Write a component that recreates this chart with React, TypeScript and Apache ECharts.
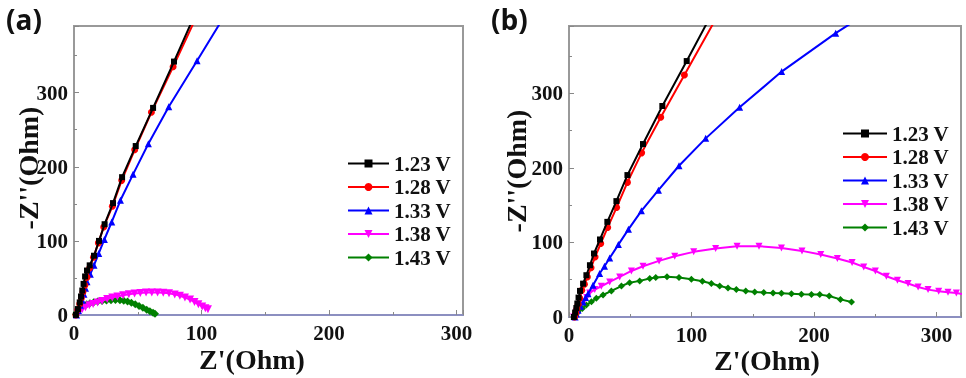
import React, { useEffect, useRef } from "react";
import * as echarts from "echarts";

const seriesNames = ["1.23 V", "1.28 V", "1.33 V", "1.38 V", "1.43 V"];
const colors = ["#000000", "#ff0000", "#0000ff", "#ff00ff", "#008000"];

// Panel (a)
const a123: number[][] = [[1.5,0],[3,8],[4.5,17],[5.5,25],[6.5,33],[7.5,42],[8.7,52],[10.2,60],[12.3,67],[15.7,80],[19.6,100],[24,122.5],[30.6,151],[37.7,186],[48.4,228],[62,279.5],[78.4,342],[98,418]];
const a128: number[][] = [[1.5,0],[3,7],[4.5,15],[5.8,23],[7,31],[8.5,40],[10.2,51],[12.3,63.5],[15.3,78],[19.1,97.3],[23.3,118.8],[30.1,146.7],[37.4,181.7],[47.6,223],[60.7,273.6],[77.7,335],[98,410]];
const a133: number[][] = [[2,0],[3.5,6],[5,13],[6.5,20],[7.8,28],[9,36],[10.2,45],[12.8,55],[15.7,67.3],[19.4,83],[23.8,101.9],[29.6,125.6],[36.4,154.8],[46.3,189.8],[58.3,231],[74.3,281],[96.5,343],[122,415]];
const a138: number[][] = [[3,2],[4.5,5],[6.5,8],[9,10.5],[12,13],[15,15],[18.5,17],[22,19],[26,21.5],[30,23.5],[34,25],[38.5,26.5],[43,28],[47.5,29],[52,29.8],[56.5,30.3],[61,30.5],[65.5,30.5],[70,30],[74.5,29.2],[79,27.8],[83,26],[87,23.5],[91,20.8],[94.5,17.5],[97.5,14.5],[100.5,11.5],[103,9.2],[105,7.6]];
const a143: number[][] = [[1.5,1],[2.5,4],[3.8,7],[5.5,10],[7.5,12.5],[10,14.5],[12.5,16],[15.5,17.2],[18.5,18.2],[22,19],[25.5,19.6],[29,20],[32.5,20.2],[36,20],[39,19.3],[42,18.2],[45,16.6],[48,14.6],[51,12.3],[54,9.8],[57,7.2],[59.5,5],[62,3],[63.5,1.8]];

// Panel (b)
const b123: number[][] = [[4,0],[5,6],[6,12],[6.8,18],[7.8,26],[9,35],[11.5,44.7],[14.2,56],[17.1,69.4],[20.4,85.1],[25.3,103.9],[31.3,127.5],[38.7,155.3],[47.7,190.2],[60.4,231.8],[76.2,282.8],[96.1,343],[121,420]];
const b128: number[][] = [[4.5,0],[5.5,5],[6.5,11],[7.5,17],[8.8,25],[10.4,35.7],[12.6,43.8],[15,53.6],[18,66],[21.3,80.5],[25.9,98.5],[31.6,120],[38.9,146.8],[47.7,180.4],[59.3,220],[74.9,267.6],[94.2,324.4],[120,400]];
const b133: number[][] = [[5,0],[6,4],[7.4,9],[9.4,14.5],[11.5,20.1],[13.5,26],[15.5,31.3],[19.6,42.6],[25,58.3],[29,68],[33.2,79],[40.3,97],[48.5,117.5],[59.1,142.3],[73,170],[89.8,202.7],[111.6,239.4],[139.3,281],[173.6,328.9],[217.7,380.4],[260,425]];
const b138: number[][] = [[3.8,0],[6,6.7],[8.7,13.4],[12,20.1],[14.5,26],[16.9,32.2],[21,36.7],[26.4,41.2],[33.2,47],[41.4,53.7],[50.9,61.7],[60.4,68],[73.5,75.2],[86.3,81.5],[101.8,87.3],[119.7,91.8],[137.2,94.9],[155.1,94.9],[173.4,92.6],[190.2,88.6],[205.5,83.7],[219.1,78.3],[231.1,73],[240.6,67.1],[250.1,61.7],[259.1,54.6],[268.1,49.3],[276.8,44.8],[285,40.3],[293.1,36.7],[301.8,34.5],[309.4,33.2],[316.2,32.2],[324,30]];
const b143: number[][] = [[4.7,0],[5.8,3],[7.4,7],[10.9,11.5],[14.2,16],[18.3,20.5],[22.3,25],[27.8,29.5],[34.6,35],[42.8,41.5],[49.5,46],[57.7,48.4],[65.9,51.5],[70.8,52.9],[80,53.8],[89.8,52.9],[99.9,50.6],[108.9,47.9],[116.2,44.8],[123,41.6],[129.8,39],[136.6,36.7],[144.3,35],[151.6,33.6],[159,32.7],[166.6,32.2],[173.4,31.8],[181.6,31.3],[189.7,30.5],[197.9,30],[204.7,30],[212.4,28.2],[221.6,23.6],[230.6,20.1]];

const dataA = [a123, a128, a133, a138, a143];
const dataB = [b123, b128, b133, b138, b143];
const symbols = ["rect", "circle", "triangle", "triangle", "diamond"];
const rotates = [0, 0, 0, 180, 0];

const SERIF = "'Liberation Serif', 'Times New Roman', serif";

export default function App() {
  const ref = useRef<HTMLDivElement>(null);
  useEffect(() => {
    const chart = echarts.init(ref.current!, null, { renderer: "svg" });
    const labelStyle = { fontFamily: SERIF, fontWeight: "bold" as const, fontSize: 21, color: "#111" };
    const mkX = (gi: number, max: number) => ({
      type: "value" as const,
      gridIndex: gi,
      min: 0,
      max,
      interval: 100,
      axisLine: { show: true, lineStyle: { color: "#8c8fc0", width: 2 } },
      axisTick: { show: true, inside: true, length: 5, lineStyle: { color: "#888", width: 1 } },
      minorTick: { show: true, splitNumber: 2, length: 3, lineStyle: { color: "#888", width: 1 } },
      splitLine: { show: false },
      axisLabel: { ...labelStyle, margin: 7, showMaxLabel: max % 100 === 0 },
    });
    const mkY = (gi: number) => ({
      type: "value" as const,
      gridIndex: gi,
      min: 0,
      max: 390,
      interval: 100,
      axisLine: { show: true, lineStyle: { color: "#999", width: 2 } },
      axisTick: { show: true, inside: true, length: 5, lineStyle: { color: "#888", width: 1 } },
      minorTick: { show: true, splitNumber: 2, length: 3, lineStyle: { color: "#888", width: 1 } },
      splitLine: { show: false },
      axisLabel: { ...labelStyle, margin: 6, showMaxLabel: false },
    });
    const series: any[] = [];
    [dataA, dataB].forEach((set, gi) => {
      set.forEach((d, i) => {
        series.push({
          type: "line",
          name: seriesNames[i],
          xAxisIndex: gi,
          yAxisIndex: gi,
          data: d,
          symbol: symbols[i],
          symbolRotate: rotates[i],
          symbolSize: i === 0 ? 6 : gi === 0 && i >= 3 ? 8 : 7,
          showAllSymbol: true,
          clip: true,
          lineStyle: { color: colors[i], width: 2 },
          itemStyle: { color: colors[i] },
          z: 10 - i,
        });
      });
    });
    const legendBase = {
      orient: "vertical" as const,
      data: seriesNames,
      itemHeight: 10,
      itemGap: 2.5,
      textStyle: { fontFamily: SERIF, fontWeight: "bold" as const, fontSize: 21, lineHeight: 20, color: "#111" },
      selectedMode: false,
      padding: 0,
    };
    const titleStyle = { fontFamily: SERIF, fontWeight: "bold", fontSize: 28, fill: "#111" };
    const panelStyle = { fontFamily: "'Open Sans', sans-serif", fontWeight: "bold", fontSize: 28, fill: "#111", verticalAlign: "middle" };
    chart.setOption({
      animation: false,
      grid: [
        { left: 74, top: 26, width: 389, height: 289, show: true, borderColor: "#999", borderWidth: 2, backgroundColor: "transparent" },
        { left: 569, top: 26, width: 392, height: 291, show: true, borderColor: "#999", borderWidth: 2, backgroundColor: "transparent" },
      ],
      xAxis: [mkX(0, 305), mkX(1, 320)],
      yAxis: [mkY(0), mkY(1)],
      legend: [
        { ...legendBase, left: 347, top: 153, itemWidth: 41 },
        { ...legendBase, left: 842, top: 123, itemWidth: 44 },
      ],
      graphic: [
        { type: "text", x: 6, y: 19, style: { ...panelStyle, text: "(a)" } },
        { type: "text", x: 491, y: 19, style: { ...panelStyle, text: "(b)" } },
        { type: "text", x: 252, y: 359, style: { ...titleStyle, text: "Z'(Ohm)", align: "center", verticalAlign: "middle" } },
        { type: "text", x: 767, y: 360, style: { ...titleStyle, text: "Z'(Ohm)", align: "center", verticalAlign: "middle" } },
        { type: "text", x: 28, y: 168, rotation: Math.PI / 2, style: { ...titleStyle, text: "-Z''(Ohm)", align: "center", verticalAlign: "middle" } },
        { type: "text", x: 516, y: 171, rotation: Math.PI / 2, style: { ...titleStyle, text: "-Z''(Ohm)", align: "center", verticalAlign: "middle" } },
      ],
      series,
    });
    return () => chart.dispose();
  }, []);
  return <div ref={ref} style={{ position: "fixed", left: 0, top: 0, width: 966, height: 378 }} />;
}
